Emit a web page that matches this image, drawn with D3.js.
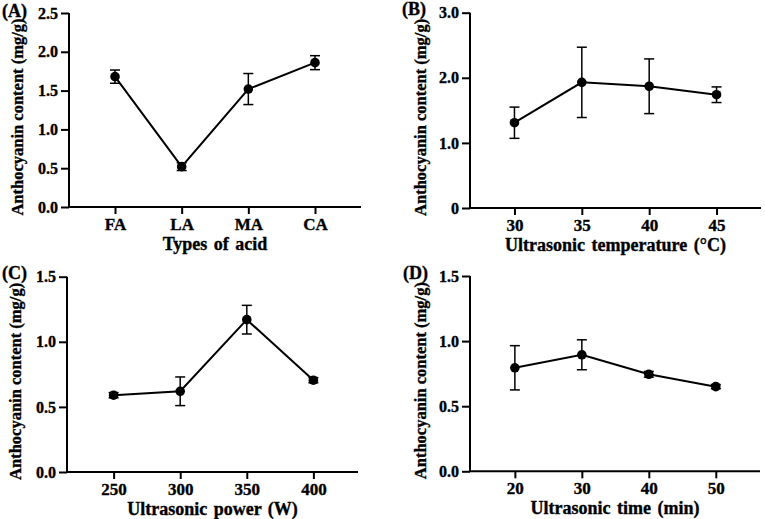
<!DOCTYPE html>
<html><head><meta charset="utf-8">
<script src="https://cdn.jsdelivr.net/npm/d3@7"></script>
<style>
body{margin:0;background:#fff;}
svg{display:block;}
text{font-family:"Liberation Serif","Times New Roman",serif;font-weight:bold;fill:#000;stroke:#000;stroke-width:0.35px;}
</style></head>
<body>
<svg id="chart" width="765" height="519"></svg>
<script>
// Panel A
const acidCategories = ["FA","LA","MA","CA"];
const acidMeans = [1.68, 0.52, 1.52, 1.86];
const acidErrors = [0.085, 0.05, 0.2, 0.09];
const acidYTicks = [0.0, 0.5, 1.0, 1.5, 2.0, 2.5];

// Panel B
const tempLevels = [30, 35, 40, 45];
const tempMeans = [1.31, 1.93, 1.87, 1.74];
const tempErrors = [0.24, 0.54, 0.42, 0.12];
const tempYTicks = [0, 1.0, 2.0, 3.0];

// Panel C
const powerLevels = [250, 300, 350, 400];
const powerMeans = [0.59, 0.62, 1.17, 0.705];
const powerErrors = [0.02, 0.11, 0.11, 0.02];
const powerYTicks = [0.0, 0.5, 1.0, 1.5];

// Panel D
const timeLevels = [20, 30, 40, 50];
const timeMeans = [0.795, 0.895, 0.745, 0.65];
const timeErrors = [0.17, 0.115, 0.022, 0.016];
const timeYTicks = [0.0, 0.5, 1.0, 1.5];

const yTitle = "Anthocyanin content (mg/g)";

const svg = d3.select("#chart");

function panel(cfg){
  const g = svg.append("g");
  const x = cfg.x, y = cfg.y;
  const yAxis = d3.axisLeft(y).tickValues(cfg.yTicks).tickFormat(cfg.yFmt).tickSizeInner(8).tickSizeOuter(0).tickPadding(3);
  const ya = g.append("g").attr("transform",`translate(${cfg.left},0)`).call(yAxis);
  const xAxis = d3.axisBottom(x).tickSizeInner(7).tickSizeOuter(0).tickPadding(4);
  if(cfg.xTicks) xAxis.tickValues(cfg.xTicks);
  const xa = g.append("g").attr("transform",`translate(0,${cfg.bottom})`).call(xAxis);
  [ya,xa].forEach(a=>{
    a.select(".domain").attr("stroke","#000").attr("stroke-width",2);
    a.selectAll(".tick line").attr("stroke","#000").attr("stroke-width",2);
    a.selectAll(".tick text").style("font-family",'"Liberation Serif",serif').style("font-weight","bold");
  });
  ya.selectAll(".tick text").style("font-size","16px");
  xa.selectAll(".tick text").style("font-size","17px");
  xa.select(".domain").attr("d",`M${cfg.left},0H${cfg.right}`);
  ya.select(".domain").attr("d",`M0,${cfg.bottom}V${cfg.top}`);

  const pts = cfg.cats.map((c,i)=>({c, m:cfg.means[i], e:cfg.errs[i]}));
  const line = d3.line().x(d=>x(d.c)).y(d=>y(d.m));
  g.append("path").datum(pts).attr("d",line).attr("fill","none").attr("stroke","#000").attr("stroke-width",2);
  const eb = g.selectAll(".eb").data(pts).enter().append("g");
  eb.append("line").attr("x1",d=>x(d.c)).attr("x2",d=>x(d.c)).attr("y1",d=>y(d.m+d.e)).attr("y2",d=>y(d.m-d.e)).attr("stroke","#000").attr("stroke-width",1.5);
  eb.append("line").attr("x1",d=>x(d.c)-5).attr("x2",d=>x(d.c)+5).attr("y1",d=>y(d.m+d.e)).attr("y2",d=>y(d.m+d.e)).attr("stroke","#000").attr("stroke-width",1.5);
  eb.append("line").attr("x1",d=>x(d.c)-5).attr("x2",d=>x(d.c)+5).attr("y1",d=>y(d.m-d.e)).attr("y2",d=>y(d.m-d.e)).attr("stroke","#000").attr("stroke-width",1.5);
  g.selectAll(".pt").data(pts).enter().append("circle").attr("cx",d=>x(d.c)).attr("cy",d=>y(d.m)).attr("r",4.8).attr("fill","#000");

  g.append("text").attr("x",(cfg.left+cfg.right)/2).attr("y",cfg.bottom+43).attr("text-anchor","middle").style("font-size","18px").style("word-spacing","2px").text(cfg.xTitle);
  g.append("text").attr("transform",`translate(${cfg.yTitleX},${(cfg.top+cfg.bottom)/2+7}) rotate(-90)`).attr("text-anchor","middle").style("font-size","16.5px").text(yTitle);
  g.append("text").attr("x",cfg.labelX).attr("y",cfg.labelY).style("font-size","18px").text(cfg.label);
}

// A
{
  const left=69,right=361,top=13,bottom=207;
  const x = d3.scalePoint().domain(acidCategories).range([left,right]).padding(0.69);
  const y = d3.scaleLinear().domain([0,2.5]).range([bottom,top]);
  panel({x,y,left,right,top,bottom,cats:acidCategories,means:acidMeans,errs:acidErrors,yTicks:acidYTicks,yFmt:d3.format(".1f"),xTitle:"Types of acid",yTitleX:23,label:"(A)",labelX:2,labelY:17});
}
// B
{
  const left=470,right=761,top=12.7,bottom=208;
  const x = d3.scaleLinear().domain([26.7,48.3]).range([left,right]);
  const y = d3.scaleLinear().domain([0,3]).range([bottom,top]);
  panel({x,y,left,right,top,bottom,cats:tempLevels,means:tempMeans,errs:tempErrors,yTicks:tempYTicks,yFmt:d=>d===0?"0":d3.format(".1f")(d),xTicks:tempLevels,xTitle:"Ultrasonic temperature (°C)",yTitleX:426,label:"(B)",labelX:402,labelY:15});
}
// C
{
  const left=67,right=358,top=276.7,bottom=472;
  const x = d3.scaleLinear().domain([215,433.5]).range([left,right]);
  const y = d3.scaleLinear().domain([0,1.5]).range([bottom,top]);
  panel({x,y,left,right,top,bottom,cats:powerLevels,means:powerMeans,errs:powerErrors,yTicks:powerYTicks,yFmt:d3.format(".1f"),xTicks:powerLevels,xTitle:"Ultrasonic power (W)",yTitleX:21,label:"(C)",labelX:2,labelY:279});
}
// D
{
  const left=470,right=760,top=276,bottom=471.3;
  const x = d3.scaleLinear().domain([13.3,56.6]).range([left,right]);
  const y = d3.scaleLinear().domain([0,1.5]).range([bottom,top]);
  panel({x,y,left,right,top,bottom,cats:timeLevels,means:timeMeans,errs:timeErrors,yTicks:timeYTicks,yFmt:d3.format(".1f"),xTicks:timeLevels,xTitle:"Ultrasonic time (min)",yTitleX:426,label:"(D)",labelX:403,labelY:279});
}
</script>
</body></html>
